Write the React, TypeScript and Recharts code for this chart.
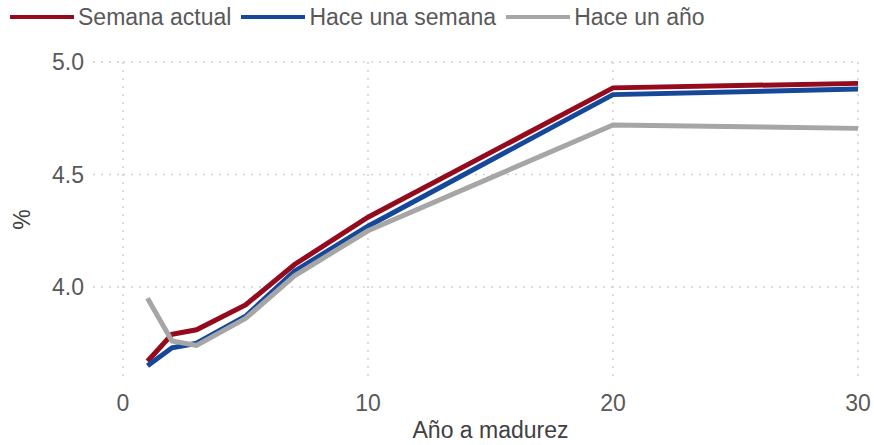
import React from 'react'
import { LineChart, Line, XAxis, YAxis, CartesianGrid, Legend } from 'recharts'

// años a madurez (curva de bonos)
const maturities = [1, 2, 3, 5, 7, 10, 20, 30]
const currentWeek = [3.67, 3.79, 3.81, 3.92, 4.1, 4.31, 4.885, 4.905]
const weekAgo = [3.65, 3.73, 3.75, 3.87, 4.07, 4.27, 4.855, 4.88]
const yearAgo = [3.95, 3.76, 3.74, 3.86, 4.05, 4.25, 4.72, 4.705]

const xTicks = [0, 10, 20, 30]
const yTicks = [4.0, 4.5, 5.0]

const seriesNames = ['Semana actual', 'Hace una semana', 'Hace un año']
const seriesColors = ['#950b1e', '#16489a', '#a6a6a6']

const FONT = '"Liberation Sans", Arial, sans-serif'
const TEXT = '#595959'

const data = maturities.map((m, i) => ({
  m,
  current: currentWeek[i],
  week: weekAgo[i],
  year: yearAgo[i],
}))

function LegendRow() {
  return (
    <div style={{ display: 'flex', alignItems: 'center', height: 34, paddingLeft: 10, fontFamily: FONT, fontSize: 23, color: TEXT }}>
      {seriesNames.map((name, i) => (
        <div key={name} style={{ display: 'flex', alignItems: 'center', marginRight: 10 }}>
          <span style={{ display: 'inline-block', width: 64, height: 4, background: seriesColors[i], marginRight: 4 }} />
          <span>{name}</span>
        </div>
      ))}
    </div>
  )
}

export default function App() {
  return (
    <div style={{ position: 'absolute', left: 0, top: 0, background: '#fff' }}>
      <LineChart width={874} height={445} data={data} margin={{ top: 28, right: 16, bottom: 0, left: 0 }}>
        <Legend verticalAlign="top" align="left" content={() => <LegendRow />} wrapperStyle={{ left: 0, top: 0, width: 874 }} />
        <CartesianGrid stroke="#cfcfcf" strokeWidth={1.5} strokeDasharray="2 6" horizontalValues={yTicks} verticalValues={xTicks} />
        <XAxis
          dataKey="m"
          type="number"
          domain={[0, 30]}
          ticks={xTicks}
          axisLine={false}
          tickLine={false}
          tickSize={0}
          tickMargin={18}
          height={68}
          tick={{ fill: TEXT, fontSize: 23, fontFamily: FONT }}
          label={({ viewBox }: any) => (
            <text x={viewBox.x + viewBox.width / 2} y={viewBox.y + 61} textAnchor="middle" fill="#404040" fontSize={23} fontFamily={FONT}>
              Año a madurez
            </text>
          )}
        />
        <YAxis
          type="number"
          domain={[3.6, 5.0]}
          ticks={yTicks}
          axisLine={false}
          tickLine={{ stroke: '#cfcfcf', strokeWidth: 1.5, strokeDasharray: '2 6' }}
          tickSize={30}
          tickMargin={9}
          width={123}
          tickFormatter={(v: number) => v.toFixed(1)}
          tick={{ fill: TEXT, fontSize: 23, fontFamily: FONT }}
          label={({ viewBox }: any) => {
            const cy = viewBox.y + viewBox.height / 2
            return (
              <text x={30} y={cy} textAnchor="middle" fill="#404040" fontSize={23} fontFamily={FONT} transform={`rotate(-90 30 ${cy})`}>
                %
              </text>
            )
          }}
        />
        <Line type="linear" dataKey="current" name={seriesNames[0]} stroke={seriesColors[0]} strokeWidth={5} dot={false} isAnimationActive={false} />
        <Line type="linear" dataKey="week" name={seriesNames[1]} stroke={seriesColors[1]} strokeWidth={5} dot={false} isAnimationActive={false} />
        <Line type="linear" dataKey="year" name={seriesNames[2]} stroke={seriesColors[2]} strokeWidth={5} dot={false} isAnimationActive={false} />
      </LineChart>
    </div>
  )
}
